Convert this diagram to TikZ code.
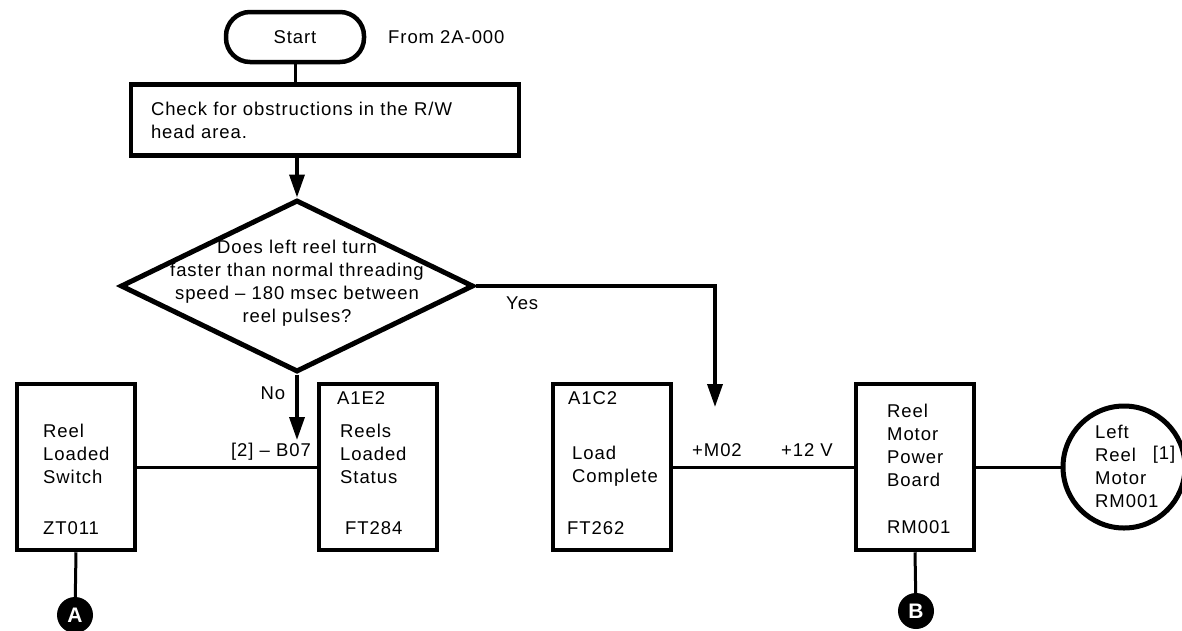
\documentclass[tikz,border=0pt]{standalone}
\usepackage{fontspec}
\setmainfont{Liberation Sans}[LetterSpace=5]
\usetikzlibrary{shapes.geometric,arrows.meta}

\tikzset{
  unit/.style={draw, line width=4.5pt, minimum width=118pt, minimum height=166pt, inner sep=0pt},
  lbl/.style={anchor=west, align=left, inner sep=0pt},
  wire/.style={line width=3pt},
  flow/.style={line width=3.5pt, -{Triangle[length=23pt,width=15pt]}},
  offpage/.style={circle, fill=black, minimum size=36pt, inner sep=0pt, text=white, font=\fontsize{21}{23}\selectfont\bfseries}
}

\begin{document}
\begin{tikzpicture}[x=1pt, y=-1pt, font=\fontsize{18.5}{23}\selectfont]
\useasboundingbox (0,0) rectangle (1182,630);

% ---------- start and check ----------
\node[draw, line width=4.5pt, rounded corners=24pt, minimum width=138pt, minimum height=50pt] (start) at (295,37) {Start};
\node[lbl] (from) at (388,37) {From 2A-000};

\node[draw, line width=4.5pt, text width=348pt, inner xsep=20pt, minimum height=71pt, align=left] (check) at (325,120) {Check for obstructions in the R/W\\head area.};
\draw[wire] (start.south) -- (start.south |- check.north);

% ---------- decision ----------
\node[draw, diamond, line width=5pt, minimum width=353pt, minimum height=172pt, inner sep=0pt] (dec) at (297,286) {};
\node[align=center, inner sep=0pt] (dectext) at (297,283) {Does left reel turn\\faster than normal threading\\speed -- 180 msec between\\reel pulses?};
\draw[flow] (check.south -| dec.north) -- (dec.north);

\coordinate (noend) at (297,440);
\coordinate (yesend) at (715,407);
\draw[flow] (dec.south) -- (noend);
\draw[flow] (dec.east) -| (yesend);
\node[lbl] (yes) at (506,303) {Yes};
\node[inner sep=0pt] (no) at (273,393) {No};

% ---------- boxes ----------
\node[unit] (switch) at (76,467) {};
\node[lbl] at (43,454) {Reel\\Loaded\\Switch};
\node[lbl] at (43,528) {ZT011};

\node[unit] (status) at (378,467) {};
\node[lbl] at (337,398) {A1E2};
\node[lbl] at (340,454) {Reels\\Loaded\\Status};
\node[lbl] at (345,528) {FT284};

\node[unit] (load) at (612,467) {};
\node[lbl] at (568,398) {A1C2};
\node[lbl] at (572,466) {Load\\Complete};
\node[lbl] at (567,528) {FT262};

\node[unit] (power) at (915,467) {};
\node[lbl] at (887,445) {Reel\\Motor\\Power\\Board};
\node[lbl] at (887,527) {RM001};

\node[draw, circle, line width=5pt, minimum size=122pt, inner sep=0pt] (motor) at (1124,467) {};
\node[lbl] at (1095,466) {Left\\Reel\\Motor\\RM001};
\node[inner sep=0pt] at (1164,455) {[1]};

% ---------- wires ----------
\draw[wire] (switch) -- (status);
\node[anchor=east, inner sep=0pt] (pin) at (311,452) {[2] -- B07};
\draw[wire] (load) -- (power);
\node[inner sep=0pt] (mzero) at (717,450) {+M02};
\node[inner sep=0pt] (volt) at (807,450) {+12 V};
\draw[wire] (power) -- (motor);

% ---------- off page ----------
\node[offpage] (conA) at (75,615) {A};
\node[offpage] (conB) at (916,611) {B};
\draw[wire] (switch.south) -- (conA);
\draw[wire] (power.south) -- (conB);

\end{tikzpicture}
\end{document}
